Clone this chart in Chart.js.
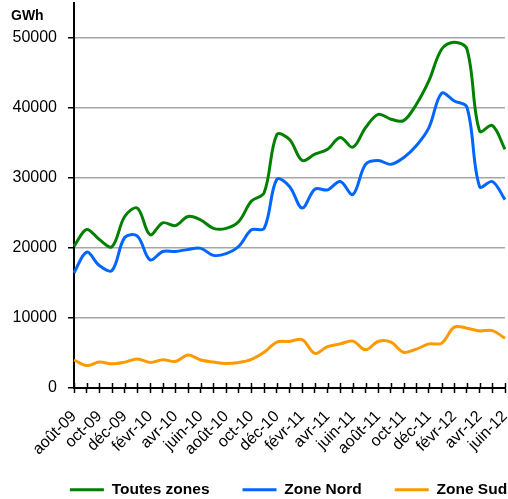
<!DOCTYPE html>
<html>
<head>
<meta charset="utf-8">
<script src="https://cdn.jsdelivr.net/npm/chart.js@4/dist/chart.umd.min.js"></script>
<style>
    body { margin: 0; background: #fff; }
    #wrap { position: relative; width: 508px; height: 499px; }
    #unit { position: absolute; left: 11px; top: 7px; font: bold 14px "Liberation Sans", Arial, sans-serif; color: #000; }
</style>
</head>
<body>
<div id="wrap">
    <canvas id="myChart" width="508" height="499"></canvas>
    <div id="unit">GWh</div>
</div>
<script>
// months, one per point (every second one is shown on the axis)
let months = ['août-09', 'sept-09', 'oct-09', 'nov-09', 'déc-09', 'janv-10', 'févr-10', 'mars-10', 'avr-10', 'mai-10', 'juin-10', 'juil-10',
    'août-10', 'sept-10', 'oct-10', 'nov-10', 'déc-10', 'janv-11', 'févr-11', 'mars-11', 'avr-11', 'mai-11', 'juin-11', 'juil-11',
    'août-11', 'sept-11', 'oct-11', 'nov-11', 'déc-11', 'janv-12', 'févr-12', 'mars-12', 'avr-12', 'mai-12', 'juin-12'];

let toutesZones = [20250, 22640, 21200, 20200, 24500, 25700, 21900, 23600, 23200, 24500, 24000, 22800,
    22800, 23800, 26700, 27900, 36200, 35500, 32500, 33400, 34100, 35800, 34400, 37200,
    39100, 38400, 38200, 40500, 43900, 48400, 49400, 48400, 36700, 37500, 34100];

let zoneNord = [16450, 19400, 17500, 16800, 21500, 21700, 18300, 19500, 19500, 19800, 19950, 18950,
    19200, 20250, 22600, 22800, 29800, 28800, 25700, 28400, 28300, 29500, 27650, 31950,
    32500, 31950, 32900, 34600, 37200, 42100, 41000, 40100, 28750, 29500, 26900];

let zoneSud = [4000, 3200, 3700, 3450, 3700, 4150, 3650, 4050, 3800, 4700, 4000, 3700,
    3500, 3650, 4100, 5100, 6550, 6650, 6900, 4950, 5900, 6300, 6700, 5450,
    6650, 6550, 5100, 5550, 6300, 6400, 8700, 8550, 8150, 8200, 7100];

let yTicks = [0, 10000, 20000, 30000, 40000, 50000];

Chart.defaults.font.family = '"Liberation Sans", Arial, sans-serif';
Chart.defaults.font.size = 16;
Chart.defaults.color = '#000';

// tick marks on the x axis cross the axis line, so draw the upper half too
const crossTicks = {
    id: 'crossTicks',
    afterLayout(chart) {
        // legend sits right of centre in the original
        chart.legend.left += 36;
        chart.legend.right += 36;
    },
    afterDatasetsDraw(chart) {
        const xs = chart.scales.x;
        const ctx = chart.ctx;
        ctx.save();
        ctx.strokeStyle = '#000';
        ctx.lineWidth = 1.5;
        xs.ticks.forEach((t, idx) => {
            let px = Math.round(xs.getPixelForTick(idx)) + 0.5;
            ctx.beginPath();
            ctx.moveTo(px, xs.top - 5);
            ctx.lineTo(px, xs.top);
            ctx.stroke();
        });
        ctx.restore();
    }
};

function line(label, data, color) {
    return {
        label: label,
        data: data,
        borderColor: color,
        backgroundColor: color,
        borderWidth: 3,
        pointRadius: 0,
        tension: 0.35,
        fill: false
    };
}

const config = {
    type: 'line',
    data: {
        labels: months,
        datasets: [
            line('Toutes zones', toutesZones, '#008000'),
            line('Zone Nord', zoneNord, '#0066ff'),
            line('Zone Sud', zoneSud, '#ff9900')
        ]
    },
    options: {
        responsive: false,
        animation: false,
        layout: { padding: { top: 3, right: 3, bottom: -8.5, left: 0 } },
        plugins: {
            tooltip: { enabled: false },
            legend: {
                position: 'bottom',
                labels: {
                    usePointStyle: true,
                    pointStyle: 'line',
                    pointStyleWidth: 34,
                    padding: 33,
                    font: { weight: 'bold', size: 15.5 }
                }
            }
        },
        scales: {
            x: {
                offset: false,
                afterFit: (axis) => {
                    axis.height = 61;
                    axis.paddingRight = 0;
                    axis.paddingLeft = 0;
                    // let the slanted labels run past the axis box
                    axis._computeLabelArea = () => null;
                },
                grid: { drawOnChartArea: false, tickLength: 5, tickColor: '#000', tickWidth: 1.5 },
                border: { color: '#000', width: 2 },
                ticks: {
                    autoSkip: false,
                    maxRotation: 45,
                    minRotation: 45,
                    padding: 14,
                    callback: function (val, idx) { return idx % 2 === 0 ? months[idx] : ''; }
                }
            },
            y: {
                min: 0,
                max: 55000,
                afterBuildTicks: (axis) => { axis.ticks = yTicks.map(v => ({ value: v })); },
                afterFit: (axis) => { axis.width = 74; axis.paddingTop = 0; axis.paddingBottom = 0; },
                grid: { color: '#a6a6a6', lineWidth: 1.5, tickLength: 6, tickColor: '#000' },
                border: { color: '#000', width: 2 },
                ticks: { padding: 11, callback: (v) => String(v) }
            }
        }
    },
    plugins: [crossTicks]
};

new Chart(document.getElementById('myChart'), config);
</script>
</body>
</html>
